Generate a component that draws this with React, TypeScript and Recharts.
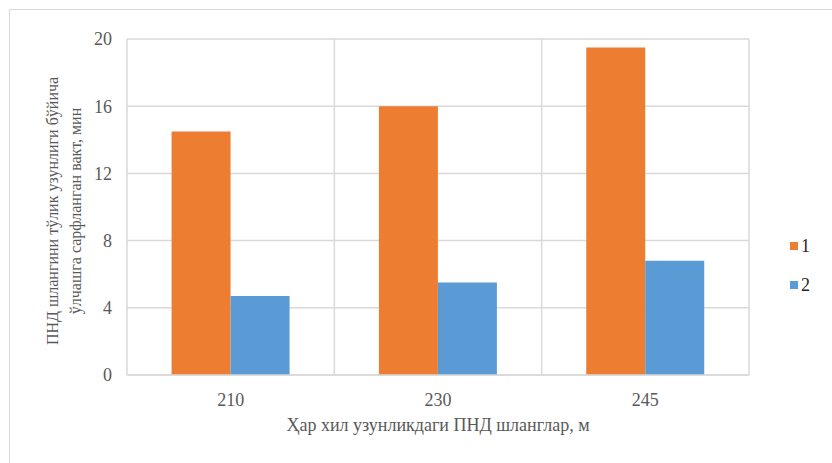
import React from 'react';
import { BarChart, Bar, XAxis, YAxis, CartesianGrid, Label } from 'recharts';

// Hose lengths (m) on the category axis
const lengths = ['210', '230', '245'];
// Measured time per series (min)
const series1 = [14.5, 16, 19.5];
const series2 = [4.7, 5.5, 6.8];
const yTicks = [0, 4, 8, 12, 16, 20];

const seriesNames = ['1', '2'];
const colors = ['#ED7D31', '#5B9BD5'];

const data = lengths.map((len, i) => ({ len, s1: series1[i], s2: series2[i] }));

const FONT = "'Times New Roman', Times, Tinos, 'Liberation Serif', 'DejaVu Serif', serif";
const TEXT = '#595959';
const GRID = '#d9d9d9';

const YTitle = (props: any) => {
  const vb = props.viewBox;
  const cy = vb.y + vb.height / 2 + 4;
  const cx = 65;
  return (
    <text
      transform={`rotate(-90, ${cx}, ${cy})`}
      x={cx}
      y={cy}
      textAnchor="middle"
      fill={TEXT}
      style={{ fontFamily: FONT }}
      fontSize={16}
    >
      <tspan x={cx} dy={-7}>ПНД шлангини тўлик узунлиги бўйича</tspan>
      <tspan x={cx} dy={23}>ўлчашга сарфланган вакт, мин</tspan>
    </text>
  );
};

export default function App() {
  return (
    <div style={{ position: 'absolute', left: 0, top: 0, width: 832, height: 463, background: '#fff', overflow: 'hidden', fontFamily: FONT }}>
      <div
        style={{
          position: 'absolute',
          left: 9,
          top: 9,
          width: 840,
          height: 470,
          borderLeft: `1px solid ${GRID}`,
          borderTop: `1px solid ${GRID}`,
        }}
      />
      <BarChart
        width={832}
        height={463}
        data={data}
        margin={{ top: 39, right: 83, bottom: 0, left: 0 }}
        barCategoryGap="21.5%"
        barGap={0}
        style={{ fontFamily: FONT }}
      >
        <CartesianGrid
          stroke={GRID}
          strokeWidth={1.5}
          horizontal
          vertical
          verticalCoordinatesGenerator={({ offset }: any) =>
            [0, 1, 2, 3].map((i) => offset.left + (i * offset.width) / lengths.length)
          }
        />
        <XAxis
          dataKey="len"
          axisLine={{ stroke: GRID, strokeWidth: 1.5 }}
          tickLine={false}
          tickSize={0}
          tickMargin={18}
          height={88}
          tick={{ fill: TEXT, fontSize: 18, style: { fontFamily: FONT } }}
        >
          <Label
            value="Ҳар хил узунликдаги ПНД шланглар, м"
            position="insideTop"
            offset={43}
            fill={TEXT}
            style={{ fontFamily: FONT }}
            fontSize={18}
          />
        </XAxis>
        <YAxis
          domain={[0, 20]}
          ticks={yTicks}
          axisLine={false}
          tickLine={false}
          tickSize={0}
          tickMargin={15}
          width={127}
          interval={0}
          tick={{ fill: TEXT, fontSize: 18, style: { fontFamily: FONT } }}
        >
          <Label content={<YTitle />} />
        </YAxis>
        <Bar dataKey="s1" name={seriesNames[0]} fill={colors[0]} isAnimationActive={false} />
        <Bar dataKey="s2" name={seriesNames[1]} fill={colors[1]} isAnimationActive={false} />
      </BarChart>
      <div style={{ position: 'absolute', left: 790, top: 236, fontSize: 18, color: '#262626' }}>
        {seriesNames.map((n, i) => (
          <div key={n} style={{ display: 'flex', alignItems: 'center', height: 20, marginBottom: i === 0 ? 19 : 0 }}>
            <span style={{ width: 8, height: 8, background: colors[i], display: 'inline-block', marginRight: 3 }} />
            <span>{n}</span>
          </div>
        ))}
      </div>
    </div>
  );
}
